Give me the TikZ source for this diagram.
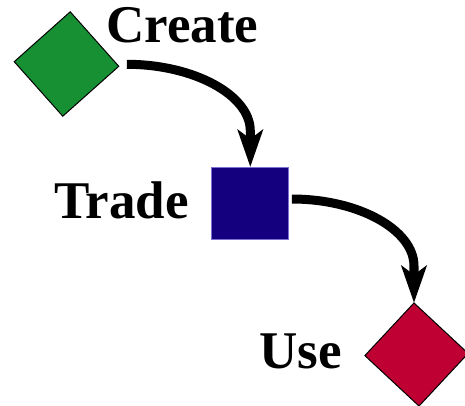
\documentclass[tikz,border=0pt]{standalone}
\usepackage{fontspec}
\setmainfont{Liberation Serif}
\usetikzlibrary{arrows.meta,calc}
\definecolor{cgreen}{HTML}{178F33}
\definecolor{cblue}{HTML}{14007E}
\definecolor{cred}{HTML}{BE0032}
\definecolor{cblueedge}{HTML}{7A70D0}
\begin{document}
\begin{tikzpicture}[x=1pt,y=-1pt,
  shapebox/.style={draw=black, line width=1pt, inner sep=0pt, outer sep=0pt},
  lbl/.style={anchor=base west, inner sep=0pt, font=\fontsize{53}{54}\selectfont\bfseries},
  flow/.style={line width=9pt, -{Stealth[length=37pt,width=25pt,inset=9pt]}}]
\useasboundingbox (0,0) rectangle (465,406);
\node[shapebox, fill=cgreen, minimum width=75pt, minimum height=73pt, rotate=41.7] (c) at (66.5,64) {};
\node[draw=cblueedge, line width=0.8pt, fill=cblue, minimum width=77pt, minimum height=72pt, inner sep=0pt, outer sep=0pt] (t) at (250.3,203) {};
\node[shapebox, fill=cred, minimum width=72pt, minimum height=74pt, rotate=47] (u) at (416.5,354.5) {};
\draw[flow] ([xshift=8pt,yshift=2pt]c.south east) .. controls +(67,0) and +(0,-36) .. ($(t.north)+(0,-36)$) -- (t.north);
\draw[flow] ([xshift=3pt,yshift=4pt]t.east) .. controls +(67,0) and +(0,-36) .. ($(u.north east)+(0,-37)$) -- (u.north east);
\node[lbl] (lc) at (106,43) {Create};
\node[lbl] (lt) at (54,218) {Trade};
\node[lbl] (lu) at (259,368) {Use};
\end{tikzpicture}
\end{document}
